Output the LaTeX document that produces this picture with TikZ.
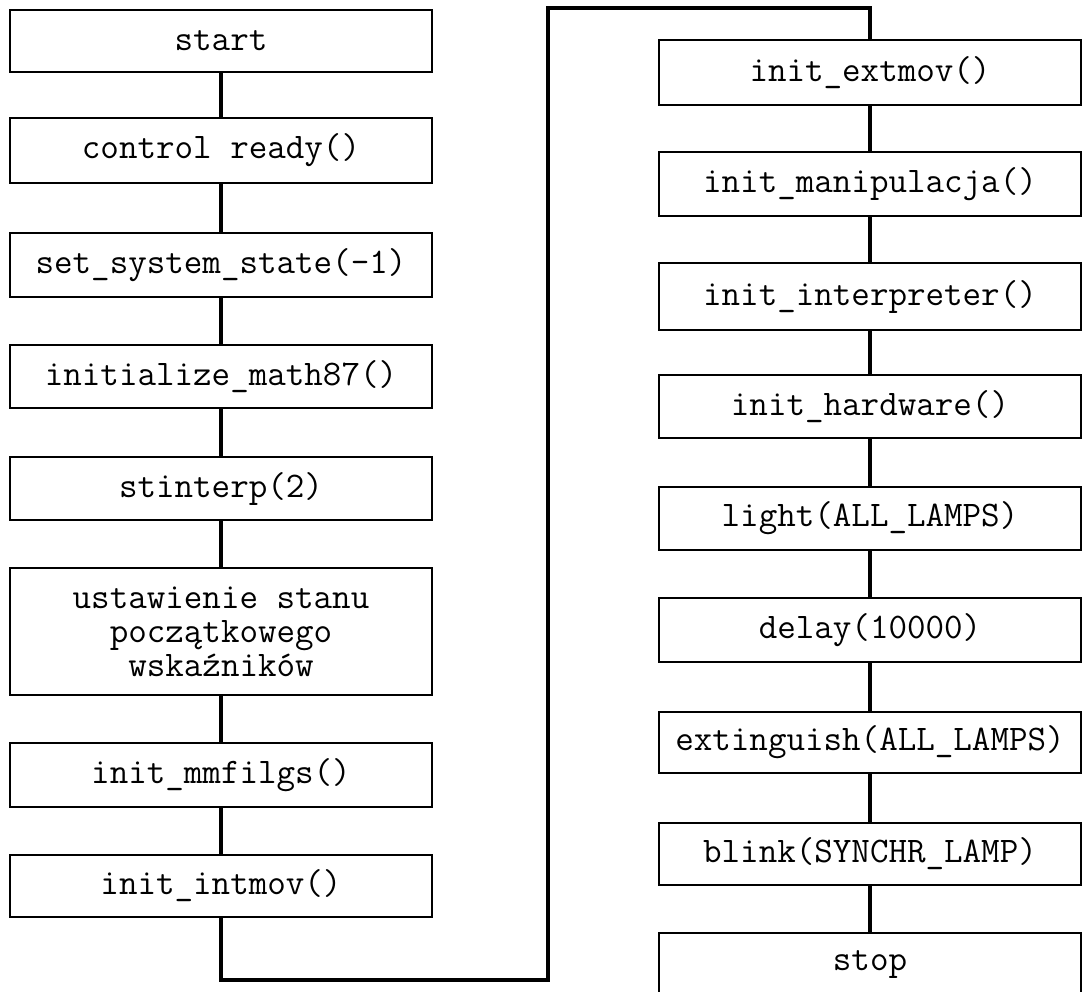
\documentclass[tikz,border=0pt]{standalone}
\usepackage{fontspec}
\begin{document}
\begin{tikzpicture}[x=1pt,y=-1pt,
  stepbox/.style={draw=black,line width=2.4pt,minimum width=422pt,inner sep=0pt,
    font=\fontsize{36}{34}\ttfamily,align=center},
  conn/.style={draw=black,line width=4pt}]
\useasboundingbox (0,0) rectangle (1084,991);
\clip (0,0) rectangle (1084,991);
% left column
\node[stepbox,minimum height=62pt] (start) at (221,41) {start};
\node[stepbox,minimum height=65pt] (ready) at (221,150.5) {control ready()};
\node[stepbox,minimum height=64pt] (state) at (221,265) {set\_system\_state(-1)};
\node[stepbox,minimum height=63pt] (math) at (221,376.5) {initialize\_math87()};
\node[stepbox,minimum height=63pt] (stint) at (221,488.5) {stinterp(2)};
\node[stepbox,minimum height=127pt] (ustaw) at (221,631.5) {ustawienie stanu\\początkowego\\wskaźników};
\node[stepbox,minimum height=64pt] (mmf) at (221,775) {init\_mmfilgs()};
\node[stepbox,minimum height=62pt] (intmov) at (221,886) {init\_intmov()};
% right column
\node[stepbox,minimum height=65pt] (extmov) at (870,72.5) {init\_extmov()};
\node[stepbox,minimum height=64pt] (manip) at (870,184) {init\_manipulacja()};
\node[stepbox,minimum height=67pt] (interp) at (870,296.5) {init\_interpreter()};
\node[stepbox,minimum height=63pt] (hard) at (870,406.5) {init\_hardware()};
\node[stepbox,minimum height=63pt] (light) at (870,518.5) {light(ALL\_LAMPS)};
\node[stepbox,minimum height=64pt] (delay) at (870,630) {delay(10000)};
\node[stepbox,minimum height=61pt] (ext) at (870,742.5) {extinguish(ALL\_LAMPS)};
\node[stepbox,minimum height=62pt] (blink) at (870,854) {blink(SYNCHR\_LAMP)};
\node[stepbox,minimum height=64pt] (stop) at (870,965) {stop};
% connectors
\coordinate (c1) at (548,980);
\coordinate (c2) at (548,8);
\draw[conn] (start) -- (ready);
\draw[conn] (ready) -- (state);
\draw[conn] (state) -- (math);
\draw[conn] (math) -- (stint);
\draw[conn] (stint) -- (ustaw);
\draw[conn] (ustaw) -- (mmf);
\draw[conn] (mmf) -- (intmov);
\draw[conn] (intmov.south) |- (c1) -- (c2) -| (extmov.north);
\draw[conn] (extmov) -- (manip);
\draw[conn] (manip) -- (interp);
\draw[conn] (interp) -- (hard);
\draw[conn] (hard) -- (light);
\draw[conn] (light) -- (delay);
\draw[conn] (delay) -- (ext);
\draw[conn] (ext) -- (blink);
\draw[conn] (blink) -- (stop);
\end{tikzpicture}
\end{document}
